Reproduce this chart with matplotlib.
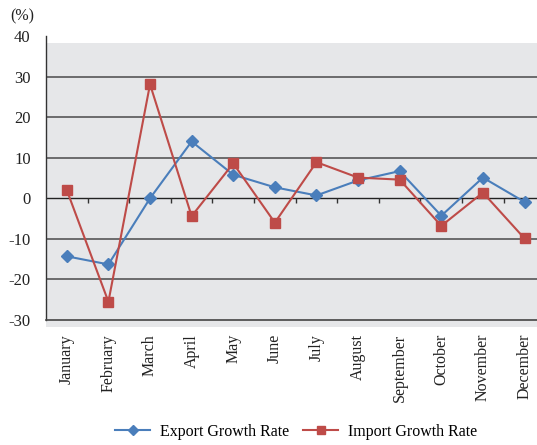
import matplotlib
matplotlib.use("Agg")
import matplotlib.pyplot as plt
import numpy as np
from matplotlib.patches import Rectangle

months = ["January", "February", "March", "April", "May", "June", "July",
          "August", "September", "October", "November", "December"]
export_rate = [-14.3, -16.3, 0.0, 14.0, 5.8, 2.7, 0.7, 4.4, 6.7, -4.3, 5.1, -0.9]
import_rate = [2.0, -25.5, 28.1, -4.4, 8.6, -6.0, 8.9, 5.1, 4.6, -6.8, 1.4, -9.9]
yticks = [-30, -20, -10, 0, 10, 20, 30, 40]

plt.rcParams['font.family'] = ['Liberation Serif', 'DejaVu Serif']

W, H = 537, 445
fig = plt.figure(figsize=(W / 100, H / 100), dpi=100)
ax_left, ax_right = 46 / W, 1.0
ax_bottom, ax_top = 1 - 320 / H, 1 - 36 / H
ax = fig.add_axes([ax_left, ax_bottom, ax_right - ax_left, ax_top - ax_bottom])
ax.set_facecolor("none")

x = np.arange(len(months))
ax.set_xlim(-0.5, 11.3)
ax.set_ylim(-30, 40)

# gray background, slightly offset downward
hpx = 320 - 36
bg = Rectangle((0, -7 / hpx), 1.02, (320 - 43 + 7) / hpx, transform=ax.transAxes,
               facecolor="#e6e7e9", edgecolor="none", zorder=0, clip_on=False)
ax.add_patch(bg)

# gridlines
for yv in [-20, -10, 10, 20, 30]:
    ax.axhline(yv, color="#4a4a4a", lw=1.1, zorder=1)
ax.axhline(0, color="#222222", lw=1.0, zorder=1)
ax.vlines(x[:-1] + 0.5, -1.1, 0, color="#333333", lw=1.0, zorder=1)

ax.plot(x, export_rate, color="#4a7ebb", lw=1.5, marker="D", ms=6.5,
        label="Export Growth Rate", zorder=3)
ax.plot(x, import_rate, color="#be4b48", lw=1.5, marker="s", ms=7,
        label="Import Growth Rate", zorder=3)

for s in ["top", "right"]:
    ax.spines[s].set_visible(False)
ax.spines["left"].set_color("#333333")
ax.spines["bottom"].set_color("#444444")
ax.spines["left"].set_linewidth(1.0)
ax.spines["bottom"].set_linewidth(1.2)

ax.set_yticks(yticks)
ax.set_yticklabels([str(v) for v in yticks])
ax.tick_params(axis="y", length=0, pad=11, labelsize=12, colors="#222222")
ax.set_xticks(x)
ax.set_xticklabels(months, rotation=90, va="top", ha="center")
ax.tick_params(axis="x", length=0, pad=10, labelsize=11.5, colors="#222222")

fig.text(22 / W, 1 - 16 / H, "(%)", fontsize=11.5, ha="center", va="center",
         color="#222222")

leg = fig.legend(loc="center", bbox_to_anchor=(296 / W, 1 - 432 / H), ncol=2,
                 frameon=False, fontsize=11.5, handlelength=2.2, columnspacing=0.9,
                 handletextpad=0.6, markerscale=0.85)

fig.savefig("out.png", dpi=100)
